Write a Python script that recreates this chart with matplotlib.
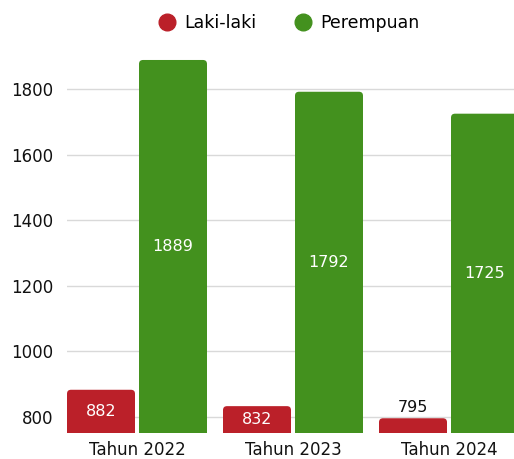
import numpy as np
import matplotlib
matplotlib.use('Agg')
import matplotlib.pyplot as plt
from matplotlib.patches import FancyBboxPatch
from matplotlib.lines import Line2D

plt.rcParams['font.family'] = ['DejaVu Sans']

years = ['Tahun 2022', 'Tahun 2023', 'Tahun 2024']
laki = [882, 832, 795]
perempuan = [1889, 1792, 1725]
series_names = ['Laki-laki', 'Perempuan']
red = '#BB2029'
green = '#43911E'

fig = plt.figure(figsize=(5.14, 4.59), dpi=100)
# axes: left at 67px, right at 514px, bottom at 433px, top at 40px
ax = fig.add_axes([67/514, 26/459, 447/514, 393/459])

x = np.arange(len(years))
width = 68/156
gap = 4/156
off = width/2 + gap/2

b1 = ax.bar(x - off, laki, width, color=red)
b2 = ax.bar(x + off, perempuan, width, color=green)

ax.set_xlim(-off - width/2, -off - width/2 + 447/156)
ax.set_ylim(750, 1950)

# y units per px / x units per px
aspect = (1200/393) / (1/156)
for bars in (b1, b2):
    for r in bars:
        r.set_visible(False)
        p = FancyBboxPatch((r.get_x(), r.get_y()), r.get_width(), r.get_height(),
                           boxstyle='round,pad=0,rounding_size=%f' % (4/156),
                           mutation_aspect=aspect, fc=r.get_facecolor(),
                           ec='none', clip_on=True, zorder=3)
        ax.add_patch(p)

# labels
ymin = 750
for bars, vals in ((b1, laki), (b2, perempuan)):
    for r, v in zip(bars, vals):
        cx = r.get_x() + r.get_width()/2
        if v - ymin > 60:
            ax.text(cx, (v + ymin)/2, str(v), ha='center', va='center',
                    color='white', fontsize=11.5, zorder=4)
        else:
            ax.text(cx, v + 10, str(v), ha='center', va='bottom',
                    color='#111111', fontsize=11.5, zorder=4)

ax.set_yticks([800, 1000, 1200, 1400, 1600, 1800])
ax.set_xticks(x)
ax.set_xticklabels(years)
ax.tick_params(axis='both', length=0, labelsize=12, colors='#111111')
ax.tick_params(axis='y', pad=10)
ax.tick_params(axis='x', pad=6)
ax.yaxis.grid(True, color='#d9d9d9', linewidth=1)
ax.set_axisbelow(True)
for s in ax.spines.values():
    s.set_visible(False)

handles = [Line2D([], [], marker='o', linestyle='none', markersize=12, color=red),
           Line2D([], [], marker='o', linestyle='none', markersize=12, color=green)]
leg = fig.legend(handles, series_names, loc='center', bbox_to_anchor=(289/514, 1 - 23/459),
                 ncol=2, frameon=False, fontsize=12.5, handletextpad=0.5,
                 columnspacing=2.2, handlelength=1.0)

fig.savefig('out.png', dpi=100)
